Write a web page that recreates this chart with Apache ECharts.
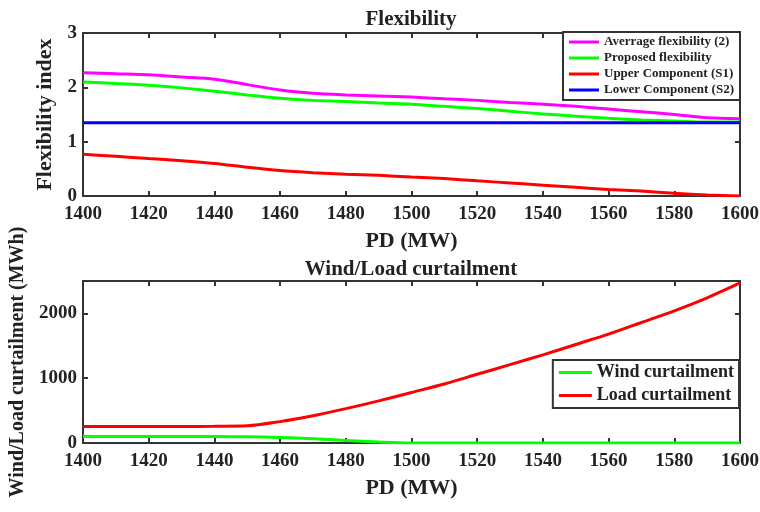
<!DOCTYPE html>
<html>
<head>
<meta charset="utf-8">
<script src="https://cdn.jsdelivr.net/npm/echarts@6/dist/echarts.min.js"></script>
<style>
  html, body { margin: 0; padding: 0; background: #fff; }
  #chart { width: 760px; height: 512px; }
</style>
</head>
<body>
<div id="chart"></div>
<script>
const pd = [1400, 1410, 1420, 1430, 1440, 1450, 1460, 1470, 1480, 1490, 1500,
  1510, 1520, 1530, 1540, 1550, 1560, 1570, 1580, 1590, 1600];

// top panel
const avgFlex = [2.27, 2.25, 2.23, 2.19, 2.15, 2.05, 1.95, 1.89, 1.86, 1.84, 1.82,
  1.79, 1.76, 1.72, 1.69, 1.65, 1.60, 1.55, 1.50, 1.44, 1.42];
const propFlex = [2.10, 2.07, 2.04, 1.99, 1.93, 1.86, 1.80, 1.76, 1.74, 1.71, 1.69,
  1.65, 1.61, 1.56, 1.51, 1.47, 1.43, 1.40, 1.38, 1.36, 1.36];
const upperS1 = [0.77, 0.73, 0.69, 0.65, 0.60, 0.53, 0.47, 0.43, 0.40, 0.38, 0.35,
  0.32, 0.28, 0.24, 0.20, 0.16, 0.12, 0.09, 0.05, 0.02, 0.00];
const lowerS2 = [1.35, 1.35, 1.35, 1.35, 1.35, 1.35, 1.35, 1.35, 1.35, 1.35, 1.35,
  1.35, 1.35, 1.35, 1.35, 1.35, 1.35, 1.35, 1.35, 1.35, 1.35];

// bottom panel
const windCurt = [100, 100, 100, 100, 100, 95, 85, 65, 40, 15, 0,
  0, 0, 0, 0, 0, 0, 0, 0, 0, 0];
const loadCurt = [255, 255, 255, 255, 258, 265, 330, 420, 530, 650, 780,
  910, 1060, 1210, 1360, 1520, 1680, 1860, 2040, 2240, 2470];

const font = "Liberation Serif";
const txt = { fontFamily: font, fontWeight: "bold", color: "#222" };

function pairs(ys) {
  return pd.map((x, i) => [x, ys[i]]);
}

function xAx(grid, main) {
  return {
    type: "value", gridIndex: grid, min: 1400, max: 1600, interval: 20,
    position: main ? "bottom" : "top",
    name: main ? "PD (MW)" : "", nameLocation: "middle", nameGap: 34,
    nameTextStyle: Object.assign({ fontSize: 22 }, txt),
    axisLine: { show: true, onZero: false, lineStyle: { color: "#333", width: 2 } },
    axisTick: { show: true, inside: true, length: 5, lineStyle: { color: "#333", width: 2 } },
    axisLabel: Object.assign({ show: main, fontSize: 19, margin: 9, formatter: v => String(v) }, txt),
    splitLine: { show: false }
  };
}

function yAx(grid, main, max, interval, name, gap, nameSize) {
  return {
    type: "value", gridIndex: grid, min: 0, max: max, interval: interval,
    position: main ? "left" : "right",
    name: main ? name : "", nameLocation: "middle", nameGap: gap,
    nameTextStyle: Object.assign({ fontSize: nameSize || 22 }, txt),
    axisLine: { show: true, onZero: false, lineStyle: { color: "#333", width: 2 } },
    axisTick: { show: true, inside: true, length: 5, lineStyle: { color: "#333", width: 2 } },
    axisLabel: Object.assign({
      show: main, fontSize: 19, margin: 6,
      showMaxLabel: max % interval === 0,
      formatter: v => String(v)
    }, txt),
    splitLine: { show: false }
  };
}

function line(name, data, color, xi, yi) {
  return {
    name: name, type: "line", data: pairs(data),
    xAxisIndex: xi, yAxisIndex: yi,
    symbol: "none", smooth: 0.3,
    lineStyle: { color: color, width: 3 },
    itemStyle: { color: color },
    z: 3
  };
}

const chart = echarts.init(document.getElementById("chart"));
chart.setOption({
  backgroundColor: "#fff",
  animation: false,
  title: [
    { text: "Flexibility", left: 406, textAlign: "center", top: 4,
      textStyle: Object.assign({ fontSize: 21 }, txt) },
    { text: "Wind/Load curtailment", left: 406, textAlign: "center", top: 254,
      textStyle: Object.assign({ fontSize: 21 }, txt) }
  ],
  grid: [
    { left: 83, right: 20, top: 33, height: 163, outerBoundsMode: "none" },
    { left: 83, right: 20, top: 281, height: 162, outerBoundsMode: "none" }
  ],
  xAxis: [xAx(0, true), xAx(0, false), xAx(1, true), xAx(1, false)],
  yAxis: [
    yAx(0, true, 3, 1, "Flexibility index", 19),
    yAx(0, false, 3, 1, "", 0),
    yAx(1, true, 2500, 1000, "Wind/Load curtailment (MWh)", 49, 20),
    yAx(1, false, 2500, 1000, "", 0)
  ],
  legend: [
    {
      data: ["Averrage flexibility (2)", "Proposed flexibility", "Upper Component (S1)", "Lower Component (S2)"],
      orient: "vertical", right: 20, top: 32,
      icon: "rect", itemWidth: 30, itemHeight: 3, itemGap: 2,
      padding: [3, 6, 3, 6],
      borderColor: "#333", borderWidth: 2, backgroundColor: "#fff",
      textStyle: Object.assign({ fontSize: 13, lineHeight: 14 }, txt)
    },
    {
      data: ["Wind curtailment", "Load curtailment"],
      orient: "vertical", right: 21, top: 360,
      icon: "rect", itemWidth: 33, itemHeight: 3, itemGap: 4,
      padding: [3, 5, 3, 6],
      borderColor: "#333", borderWidth: 2, backgroundColor: "#fff",
      textStyle: Object.assign({ fontSize: 18, lineHeight: 19 }, txt)
    }
  ],
  series: [
    line("Averrage flexibility (2)", avgFlex, "#ff00ff", 0, 0),
    line("Proposed flexibility", propFlex, "#00ff00", 0, 0),
    line("Upper Component (S1)", upperS1, "#ff0000", 0, 0),
    line("Lower Component (S2)", lowerS2, "#0000ff", 0, 0),
    line("Wind curtailment", windCurt, "#00ff00", 2, 2),
    line("Load curtailment", loadCurt, "#ff0000", 2, 2)
  ]
});
</script>
</body>
</html>
